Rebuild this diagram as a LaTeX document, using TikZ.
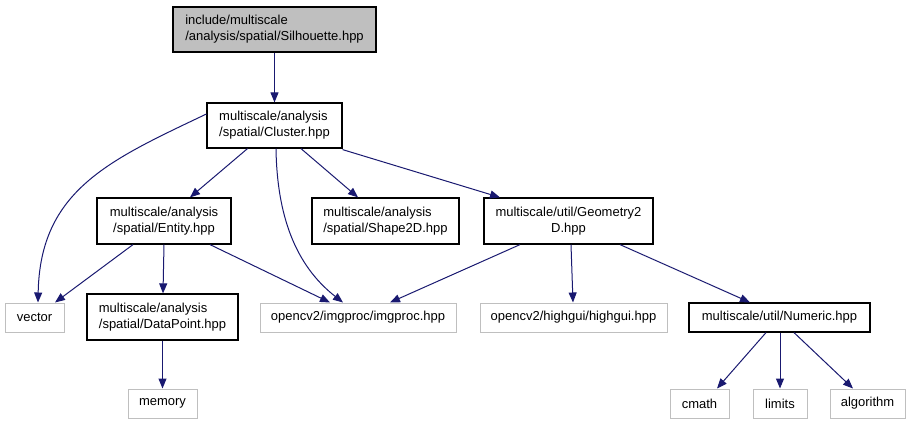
\documentclass[tikz,border=0pt]{standalone}
\usepackage{fontspec}
\setmainfont{Liberation Sans}
\usetikzlibrary{arrows.meta}
\definecolor{edgeblue}{HTML}{191970}
\definecolor{greyfill}{HTML}{BFBFBF}
\tikzset{
  box/.style={draw=black, line width=1.2pt, inner sep=0pt, font=\fontsize{13}{16}\selectfont},
  extbox/.style={draw=greyfill, line width=1pt, inner sep=0pt, font=\fontsize{13}{16}\selectfont},
  dep/.style={draw=edgeblue, line width=1pt, -{Triangle[length=10pt,width=8pt]}},
}
\begin{document}
\begin{tikzpicture}[x=1pt,y=-1pt]
\useasboundingbox (0,0) rectangle (911,424);
% nodes
\node[box, fill=greyfill, minimum width=203pt, minimum height=45pt, align=left] (sil) at (274.5,29.5) {include/multiscale\\/analysis/spatial/Silhouette.hpp};
\node[box, minimum width=135pt, minimum height=45pt, align=left] (clu) at (274.5,125.5) {multiscale/analysis\\/spatial/Cluster.hpp};
\node[box, minimum width=134pt, minimum height=46pt, align=center] (ent) at (164,221) {multiscale/analysis\\/spatial/Entity.hpp};
\node[box, minimum width=147pt, minimum height=46pt, align=left] (sha) at (385.5,221) {multiscale/analysis\\/spatial/Shape2D.hpp};
\node[box, minimum width=169pt, minimum height=46pt, align=center] (geo) at (568.5,221) {multiscale/util/Geometry2\\D.hpp};
\node[extbox, minimum width=59pt, minimum height=29pt] (vec) at (34.5,317.5) {vector};
\node[box, minimum width=151pt, minimum height=46pt, align=left] (dat) at (162.5,317) {multiscale/analysis\\/spatial/DataPoint.hpp};
\node[extbox, minimum width=196pt, minimum height=29pt] (img) at (358,317.5) {opencv2/imgproc/imgproc.hpp};
\node[extbox, minimum width=187pt, minimum height=29pt] (hig) at (573.5,317.5) {opencv2/highgui/highgui.hpp};
\node[box, minimum width=181pt, minimum height=29pt] (num) at (779.5,317.5) {multiscale/util/Numeric.hpp};
\node[extbox, minimum width=69pt, minimum height=29pt] (mem) at (162.5,403.5) {memory};
\node[extbox, minimum width=59pt, minimum height=29pt] (cma) at (699.5,403.5) {cmath};
\node[extbox, minimum width=54pt, minimum height=29pt] (lim) at (780,403.5) {limits};
\node[extbox, minimum width=75pt, minimum height=29pt] (alg) at (867.5,403.5) {algorithm};
% edges
\draw[dep] (sil.south) -- (clu.north);
\draw[dep] ([yshift=11.5pt]clu.west) .. controls (110,160) and (40,190) .. ([xshift=3.5pt]vec.north);
\draw[dep] ([xshift=-27pt]clu.south) -- ([xshift=26pt]ent.north);
\draw[dep] ([xshift=1.5pt]clu.south) .. controls (277,215) and (295,265) .. ([xshift=-15pt]img.north);
\draw[dep] ([xshift=26.5pt]clu.south) -- ([xshift=-27.5pt]sha.north);
\draw[dep] ([yshift=-1pt]clu.south east) -- ([xshift=-68.5pt]geo.north);
\draw[dep] ([xshift=-31pt]ent.south) -- ([xshift=20.5pt]vec.north);
\draw[dep] (ent.south) -- ([xshift=0.5pt]dat.north);
\draw[dep] ([xshift=46pt]ent.south) -- ([xshift=-28pt]img.north);
\draw[dep] ([xshift=-48.5pt]geo.south) -- ([xshift=32pt]img.north);
\draw[dep] ([xshift=2.5pt]geo.south) -- ([xshift=-0.5pt]hig.north);
\draw[dep] ([xshift=51.5pt]geo.south) -- ([xshift=-29.5pt]num.north);
\draw[dep] (dat.south) -- (mem.north);
\draw[dep] ([xshift=-13.5pt]num.south) -- ([xshift=17.5pt]cma.north);
\draw[dep] ([xshift=0.5pt]num.south) -- (lim.north);
\draw[dep] ([xshift=14.5pt]num.south) -- ([xshift=-14.5pt]alg.north);
\end{tikzpicture}
\end{document}
